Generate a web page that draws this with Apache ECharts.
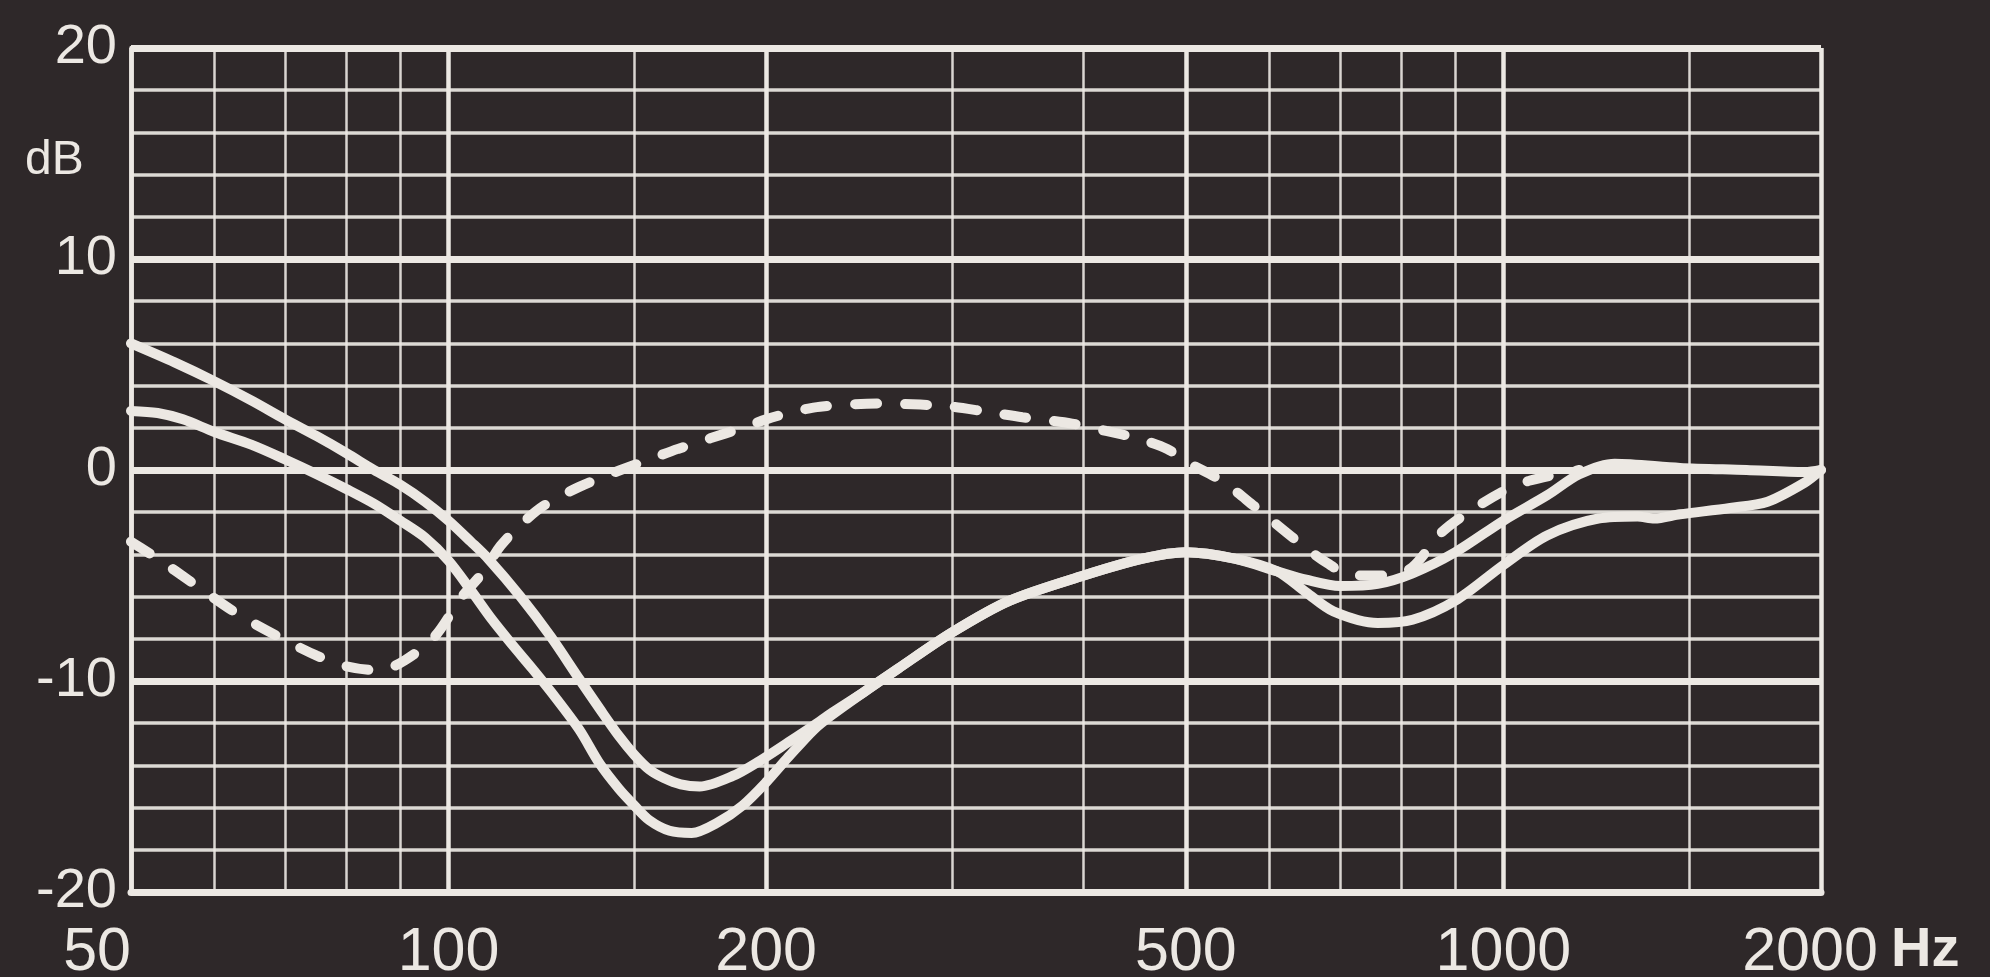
<!DOCTYPE html>
<html>
<head>
<meta charset="utf-8">
<script src="https://cdn.jsdelivr.net/npm/echarts@6/dist/echarts.min.js"></script>
<style>
html,body{margin:0;padding:0;background:#2e2829;}
#chart{width:1990px;height:977px;}
</style>
</head>
<body>
<div id="chart"></div>
<script>
// ---- data (frequency in Hz, level in dB) ----
const curveAFreq = [50,55,60,65,70,75,80,85,90,95,100,105,109,117,125,133,139,145,150,155,160,166,173,186,197,210,222,231,248,267,300,340,400,455,500,556,610,650,700,760,820,900,1000,1100,1180,1275,1470,1700,1930,2000];
const curveADb   = [6.0,5.1,4.2,3.3,2.4,1.6,0.8,0.0,-0.7,-1.5,-2.4,-3.4,-4.2,-6.0,-7.9,-9.9,-11.3,-12.6,-13.5,-14.2,-14.6,-14.9,-15.0,-14.5,-13.8,-12.9,-12.1,-11.5,-10.5,-9.4,-7.7,-6.2,-5.0,-4.2,-3.9,-4.2,-4.8,-5.2,-5.5,-5.4,-4.9,-3.9,-2.4,-1.2,-0.2,0.3,0.1,0.0,-0.1,0.0];

const curveBFreq = [50,53,56,60,65,70,75,80,85,90,95,100,105,110,115,120,125,133,139,145,150,155,162,170,180,190,200,210,222,231,248,267,300,340,400,455,500,556,610,650,690,760,820,900,1000,1100,1230,1340,1390,1470,1640,1780,1930,2000];
const curveBDb   = [2.8,2.7,2.4,1.8,1.2,0.5,-0.2,-0.9,-1.6,-2.4,-3.2,-4.3,-5.7,-7.1,-8.3,-9.4,-10.5,-12.3,-13.9,-15.1,-15.9,-16.6,-17.1,-17.2,-16.7,-15.9,-14.8,-13.6,-12.3,-11.6,-10.5,-9.4,-7.7,-6.2,-5.0,-4.2,-3.9,-4.2,-4.8,-5.8,-6.7,-7.25,-7.1,-6.2,-4.5,-3.1,-2.3,-2.2,-2.3,-2.1,-1.8,-1.5,-0.6,0.0];

const dashedFreq = [50,53,57,63,69,75,80,86,91,97,103,108,112,117,123,133,143,154,165,177,190,200,212,225,255,280,300,320,350,390,420,450,480,500,540,580,635,680,720,780,820,872,920,1000,1060,1180];
const dashedDb   = [-3.4,-4.2,-5.3,-6.8,-7.9,-8.8,-9.3,-9.5,-9.0,-7.9,-6.0,-4.8,-3.6,-2.6,-1.7,-0.8,-0.15,0.45,1.0,1.5,2.0,2.4,2.75,3.0,3.15,3.1,3.0,2.8,2.5,2.2,1.85,1.5,1.0,0.4,-0.5,-1.7,-3.3,-4.4,-5.0,-5.0,-4.6,-3.0,-2.1,-1.0,-0.5,0.0];

const xMinorLines = [50,60,70,80,90,100,150,200,300,400,500,600,700,800,900,1000,1500,2000];
const xMajorLines = [50,100,200,500,1000,2000];
const xTickLabels = [50,100,200,500,1000,2000];
const yTickLabels = [-20,-10,0,10,20];

// ---- chart ----
const INK = '#ece8e3';
const FONT = "'Liberation Sans', Arial, Helvetica, sans-serif";
function pairs(f, d){ return f.map((v,i)=>[v, d[i]]); }

const chart = echarts.init(document.getElementById('chart'), null, {renderer:'canvas'});
chart.setOption({
  backgroundColor: '#2e2829',
  animation: false,
  title: [
    {text:'dB', left: 20, top: 132, textStyle:{color: INK, fontSize: 48, fontWeight:'normal', fontFamily: FONT}},
    {text:'Hz', left: 1886, top: 918, textStyle:{color: INK, fontSize: 56, fontWeight:'bold', fontFamily: FONT}}
  ],
  grid: {left: 131, right: 169, top: 48, bottom: 85, containLabel: false, outerBoundsMode: 'none'},
  xAxis: [
    {
      type:'log', logBase:10, min:50, max:2000,
      axisLine:{show:false}, axisLabel:{show:false},
      axisTick:{show:false, customValues: xMinorLines},
      splitLine:{show:true, lineStyle:{color: INK, width:2.5, opacity:0.9}}
    },
    {
      type:'log', logBase:10, min:50, max:2000, position:'bottom',
      axisLine:{show:true, onZero:false, lineStyle:{color: INK, width:7}},
      axisTick:{show:false, customValues: xMajorLines},
      axisLabel:{show:true, customValues: xTickLabels, color: INK, fontSize: 61, fontFamily: FONT, margin: 31,
        alignMinLabel:'right',
        formatter: function(v){ return v === 2000 ? '{last|' + v + '}' : String(v); },
        rich: {last: {color: INK, fontSize: 61, fontFamily: FONT, padding: [0, 22, 0, 0]}}
      },
      splitLine:{show:true, lineStyle:{color: INK, width:4.5}}
    }
  ],
  yAxis: [
    {
      type:'value', min:-20, max:20, interval:2,
      axisLine:{show:false}, axisTick:{show:false}, axisLabel:{show:false},
      splitLine:{show:true, lineStyle:{color: INK, width:3.5, opacity:0.92}}
    },
    {
      type:'value', min:-20, max:20, interval:10, position:'left',
      axisLine:{show:true, onZero:false, lineStyle:{color: INK, width:4.5}},
      axisTick:{show:false},
      axisLabel:{show:true, color: INK, fontSize: 56, fontFamily: FONT, margin: 14,
        formatter: function(v){ return yTickLabels.indexOf(v) >= 0 ? String(v) : ''; }},
      splitLine:{show:true, lineStyle:{color: INK, width:7}}
    }
  ],
  series: [
    {
      name:'dashed', type:'line', xAxisIndex:0, yAxisIndex:0, smooth:0.3, showSymbol:false,
      data: pairs(dashedFreq, dashedDb),
      lineStyle:{color: INK, width:10, type:[22,28], cap:'round'}
    },
    {
      name:'A', type:'line', xAxisIndex:0, yAxisIndex:0, smooth:0.3, showSymbol:false,
      data: pairs(curveAFreq, curveADb),
      lineStyle:{color: INK, width:10, cap:'round', join:'round'}
    },
    {
      name:'B', type:'line', xAxisIndex:0, yAxisIndex:0, smooth:0.3, showSymbol:false,
      data: pairs(curveBFreq, curveBDb),
      lineStyle:{color: INK, width:10, cap:'round', join:'round'}
    }
  ]
});
</script>
</body>
</html>
